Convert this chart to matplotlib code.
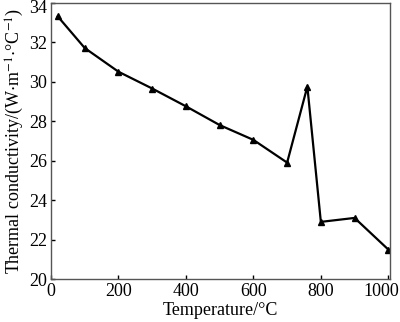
import matplotlib
matplotlib.use("Agg")
import matplotlib.pyplot as plt
from matplotlib.transforms import ScaledTranslation

# temperature (°C) vs thermal conductivity (W/(m·°C))
temperature = [20, 100, 200, 300, 400, 500, 600, 700, 760, 800, 900, 1000]
conductivity = [33.3, 31.7, 30.5, 29.65, 28.75, 27.8, 27.05, 25.9, 29.75, 22.9, 23.1, 21.5]

plt.rcParams['font.family'] = ['Liberation Serif', 'DejaVu Serif']
plt.rcParams['mathtext.fontset'] = 'stix'
plt.rcParams['font.size'] = 13

fig = plt.figure(figsize=(4.0, 3.22), dpi=100)
ax = fig.add_axes([0.1275, 0.133, 0.8475, 0.859])

ax.plot(temperature, conductivity, color='black', linewidth=1.6,
        marker='^', markersize=5)

ax.set_xlim(0, 1005)
ax.set_ylim(20, 34)
ax.set_xticks([0, 200, 400, 600, 800, 1000])
ax.set_yticks([20, 22, 24, 26, 28, 30, 32, 34])
ax.tick_params(direction='in', length=3, width=1, pad=3, labelsize=13)
for s in ax.spines.values():
    s.set_linewidth(1)
    s.set_color('#555555')

fig.canvas.draw()
# keep the edge labels inside the figure
lbl = ax.get_yticklabels()[-1]
lbl.set_transform(lbl.get_transform() + ScaledTranslation(0, -4 / 100, fig.dpi_scale_trans))
lbl = ax.get_xticklabels()[-1]
lbl.set_transform(lbl.get_transform() + ScaledTranslation(-7 / 100, 0, fig.dpi_scale_trans))

ax.set_xlabel('Temperature/°C', labelpad=1)
ax.set_ylabel(r'Thermal conductivity/(W${\cdot}$m$^{-1}{\cdot}$°C$^{-1}$)', labelpad=2)

fig.savefig('out.png', dpi=100)
